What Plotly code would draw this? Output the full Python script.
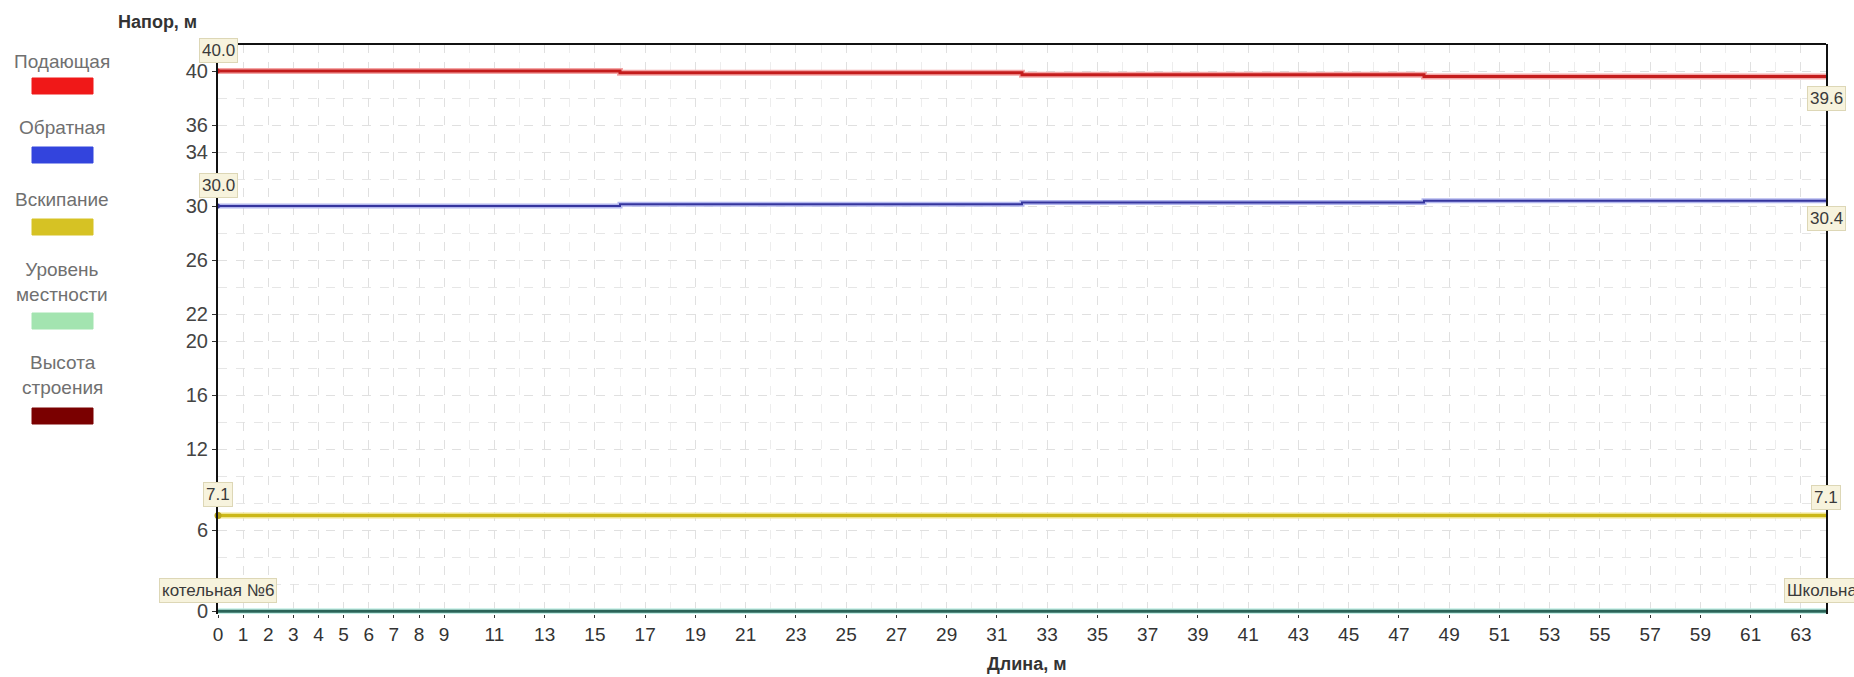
import plotly.graph_objects as go

# ---------------- data ----------------
node_x = [0, 16, 32, 48, 64]
supply = [40.0, 39.87, 39.73, 39.6, 39.6]
return_ = [30.0, 30.13, 30.27, 30.4, 30.4]
boiling = [7.1, 7.1, 7.1, 7.1, 7.1]
ground = [0.0, 0.0, 0.0, 0.0, 0.0]

x_tick_vals = list(range(0, 10)) + list(range(11, 64, 2))
y_tick_vals = [0, 6, 12, 16, 20, 22, 26, 30, 34, 36, 40]

legend_names = ["Подающая", "Обратная", "Вскипание", "Уровень<br>местности", "Высота<br>строения"]
legend_colors = ["#f01818", "#3344dd", "#d6c224", "#a3e4b0", "#7a0000"]

start_labels = ["40.0", "30.0", "7.1"]
end_labels = ["39.6", "30.4", "7.1"]
node_names = ["котельная №6", "Школьная"]

# ---------------- layout geometry ----------------
W, H = 1854, 677
L, R, T, B = 218, 28, 44, 63
PW, PH = W - L - R, H - T - B


def px2x(px):
    return (px - L) / PW


def py2y(py):
    return (H - B - py) / PH


FONT = "Liberation Sans, Arial, sans-serif"

fig = go.Figure()

series = [
    (ground, "#c4efe6", 6, "#2a6458", 3),
    (boiling, "#efe48e", 6, "#cbb718", 3),
    (return_, "#b4b8ee", 5, "#35359e", 2),
    (supply, "#f4a6a6", 6, "#c41c1c", 3),
]
for ys, halo, hw, core, cw in series:
    fig.add_trace(go.Scatter(x=node_x, y=ys, mode="lines", line=dict(color=halo, width=hw, shape="hv"),
                             hoverinfo="skip", showlegend=False))
    fig.add_trace(go.Scatter(x=node_x, y=ys, mode="lines", line=dict(color=core, width=cw, shape="hv"),
                             showlegend=False))

# start markers
for ys, col, sym in [(supply, "#c41c1c", "triangle-right"), (return_, "#35359e", "triangle-right"),
                     (boiling, "#b8a418", "circle")]:
    fig.add_trace(go.Scatter(x=[node_x[0]], y=[ys[0]], mode="markers",
                             marker=dict(symbol=sym, size=7, color=col), cliponaxis=False,
                             showlegend=False))

box = dict(bgcolor="#f7f3dd", bordercolor="#ddd7b6", borderwidth=1, borderpad=2,
           font=dict(family=FONT, size=17, color="#3a3a3a"), showarrow=False)

annotations = []
for lab, ys in zip(start_labels, [supply, return_, boiling]):
    annotations.append(dict(x=node_x[0], y=ys[0], xref="x", yref="y", text=lab, yshift=21,
                            xanchor="center", yanchor="middle", **box))
end_shifts = [-22, -18, 18]
for lab, ys, sh in zip(end_labels, [supply, return_, boiling], end_shifts):
    annotations.append(dict(x=node_x[-1], y=ys[-1], xref="x", yref="y", text=lab, yshift=sh,
                            xanchor="center", yanchor="middle", **box))
for nx, nm in zip([node_x[0], node_x[-1]], node_names):
    annotations.append(dict(x=nx, y=ground[0], xref="x", yref="y", text=nm, yshift=21,
                            xanchor="center", yanchor="middle", **box))

# axis titles
annotations.append(dict(x=px2x(157), y=py2y(22), xref="paper", yref="paper", text="<b>Напор, м</b>",
                        showarrow=False, font=dict(family=FONT, size=18, color="#333"),
                        xanchor="center", yanchor="middle"))
annotations.append(dict(x=px2x(1027), y=py2y(664), xref="paper", yref="paper", text="<b>Длина, м</b>",
                        showarrow=False, font=dict(family=FONT, size=18, color="#333"),
                        xanchor="center", yanchor="middle"))

# custom legend
shapes = []
text_centers = [62, 127, 200, 282, 375]
rect_centers = [86, 155, 227, 321, 416]
for nm, col, tc, rc in zip(legend_names, legend_colors, text_centers, rect_centers):
    annotations.append(dict(x=px2x(62), y=py2y(tc), xref="paper", yref="paper", text=nm,
                            showarrow=False, font=dict(family=FONT, size=19, color="#707070"),
                            xanchor="center", yanchor="middle", align="center"))
    shapes.append(dict(type="rect", xref="paper", yref="paper", x0=px2x(32), x1=px2x(93),
                       y0=py2y(rc + 8), y1=py2y(rc - 8), fillcolor=col, line=dict(color=col, width=1)))

shapes.append(dict(type="line", xref="paper", yref="paper", x0=0, x1=1, y0=1, y1=1,
                   line=dict(color="#111", width=2)))

fig.update_layout(
    width=W, height=H, autosize=False,
    margin=dict(l=L, r=R, t=T, b=B),
    paper_bgcolor="white", plot_bgcolor="white",
    annotations=annotations, shapes=shapes,
    showlegend=False,
    xaxis=dict(range=[0, 64], tickvals=x_tick_vals, ticktext=[str(v) for v in x_tick_vals],
               showgrid=True, gridcolor="#e0e0e0", griddash="dash", gridwidth=1,
               minor=dict(dtick=1, tick0=0, showgrid=True, gridcolor="#ededed", griddash="dash"),
               showline=False, zeroline=False, ticks="outside", ticklen=3, tickcolor="#333",
               tickfont=dict(family=FONT, size=19, color="#333")),
    yaxis=dict(range=[-0.2, 42.0], tickvals=y_tick_vals, ticktext=[str(v) for v in y_tick_vals],
               showgrid=True, gridcolor="#e0e0e0", griddash="dash", gridwidth=1,
               minor=dict(dtick=2, tick0=0, showgrid=True, gridcolor="#e6e6e6", griddash="dash"),
               showline=True, linecolor="#111", linewidth=2, mirror=True, zeroline=False,
               ticks="outside", ticklen=4, tickcolor="#333",
               tickfont=dict(family=FONT, size=20, color="#444")),
)

fig.write_html("out.html", config={"displayModeBar": False},
               post_script="document.body.style.margin='0';document.body.style.overflow='hidden';")
